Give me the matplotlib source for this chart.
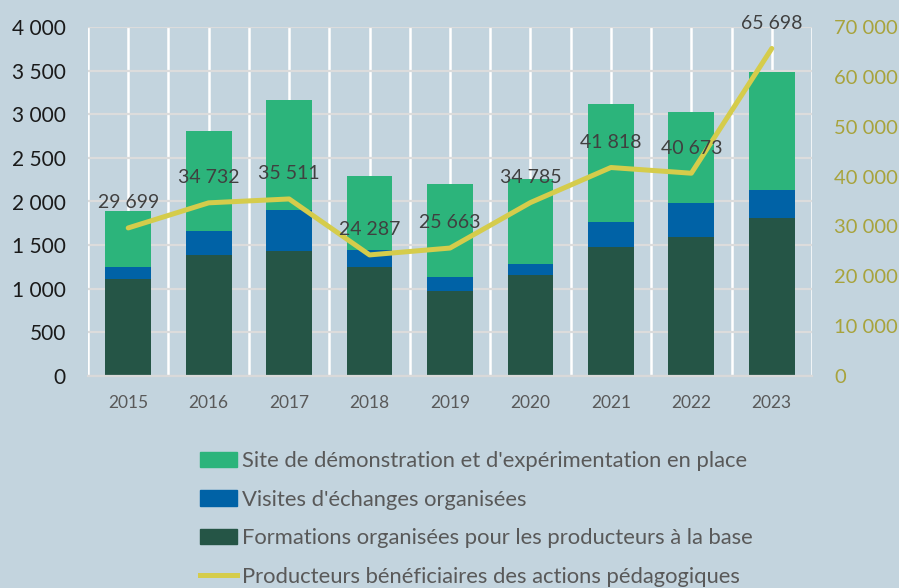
import matplotlib
matplotlib.use("Agg")
import matplotlib.pyplot as plt
import numpy as np
from matplotlib.patches import Patch
from matplotlib.lines import Line2D
from matplotlib.ticker import FuncFormatter

years = ["2015", "2016", "2017", "2018", "2019", "2020", "2021", "2022", "2023"]
formations = [1108, 1390, 1429, 1245, 974, 1157, 1478, 1596, 1807]
visites = [137, 272, 477, 199, 160, 126, 290, 383, 328]
sites = [646, 1146, 1257, 848, 1063, 971, 1345, 1050, 1349]
beneficiaires = [29699, 34732, 35511, 24287, 25663, 34785, 41818, 40673, 65698]

lab_sites = "Site de démonstration et d'expérimentation en place"
lab_visites = "Visites d'échanges organisées"
lab_form = "Formations organisées pour les producteurs à la base"
lab_benef = "Producteurs bénéficiaires des actions pédagogiques"

BG = "#c3d4de"
C_SITE = "#2cb47b"
C_VIS = "#0062a6"
C_FORM = "#255546"
C_LINE = "#d5cc4b"
C_RIGHT = "#a8a33c"

plt.rcParams["font.family"] = ["Lato", "DejaVu Sans"]

fig = plt.figure(figsize=(8.99, 5.88), dpi=100, facecolor=BG)
ax = fig.add_axes([88/899, 1-376/588, (812-88)/899, (376-27)/588])
ax.set_facecolor(BG)

x = np.arange(len(years))
w = 0.57
b1 = np.array(formations)
b2 = b1 + np.array(visites)
ax.bar(x, formations, w, color=C_FORM, zorder=2)
ax.bar(x, visites, w, bottom=b1, color=C_VIS, zorder=2)
ax.bar(x, sites, w, bottom=b2, color=C_SITE, zorder=2)

ax.set_xlim(-0.5, len(years) - 0.5)
ax.set_ylim(0, 4000)
ax.set_yticks(np.arange(0, 4001, 500))
fmt = FuncFormatter(lambda v, p: f"{int(v):,}".replace(",", " "))
ax.yaxis.set_major_formatter(fmt)
ax.set_xticks(x)
ax.set_xticklabels(years)
ax.set_xticks(np.arange(-0.5, len(years), 1.0), minor=True)

ax.set_axisbelow(True)
ax.grid(axis="y", which="major", color="#dcdcdc", linewidth=1.6, zorder=0)
ax.grid(axis="x", which="both", color="white", linewidth=1.8, zorder=0)
for s in ["top", "left", "right"]:
    ax.spines[s].set_visible(False)
ax.spines["bottom"].set_color("#d9d9d9")
ax.spines["bottom"].set_linewidth(1.6)
ax.tick_params(axis="both", which="both", length=0)
ax.tick_params(axis="y", labelsize=15, labelcolor="#1a1a1a", pad=16)
ax.tick_params(axis="x", labelsize=12.5, labelcolor="#595959", pad=14)

ax2 = ax.twinx()
ax2.set_ylim(0, 70000)
ax2.set_yticks(np.arange(0, 70001, 10000))
ax2.yaxis.set_major_formatter(fmt)
ax2.plot(x, beneficiaires, color=C_LINE, linewidth=3.6, solid_capstyle="round", zorder=3)
for xi, v in zip(x, beneficiaires):
    ax2.annotate(f"{v:,}".replace(",", " "), (xi, v), xytext=(0, 12), textcoords="offset points",
                 ha="center", va="bottom", fontsize=14, color="#404040")
for s in ax2.spines.values():
    s.set_visible(False)
ax2.tick_params(axis="y", length=0, labelsize=14.5, labelcolor=C_RIGHT, pad=16)

handles = [Patch(color=C_SITE), Patch(color=C_VIS), Patch(color=C_FORM),
           Line2D([0], [0], color=C_LINE, linewidth=3.6)]
fig.legend(handles, [lab_sites, lab_visites, lab_form, lab_benef],
           loc="upper left", bbox_to_anchor=(200/899, 1-451/588), frameon=False,
           fontsize=15.8, labelcolor="#595959", handlelength=1.7, handletextpad=0.22,
           labelspacing=0.85, borderaxespad=0, borderpad=0)

fig.savefig("out.png", dpi=100, facecolor=BG)
